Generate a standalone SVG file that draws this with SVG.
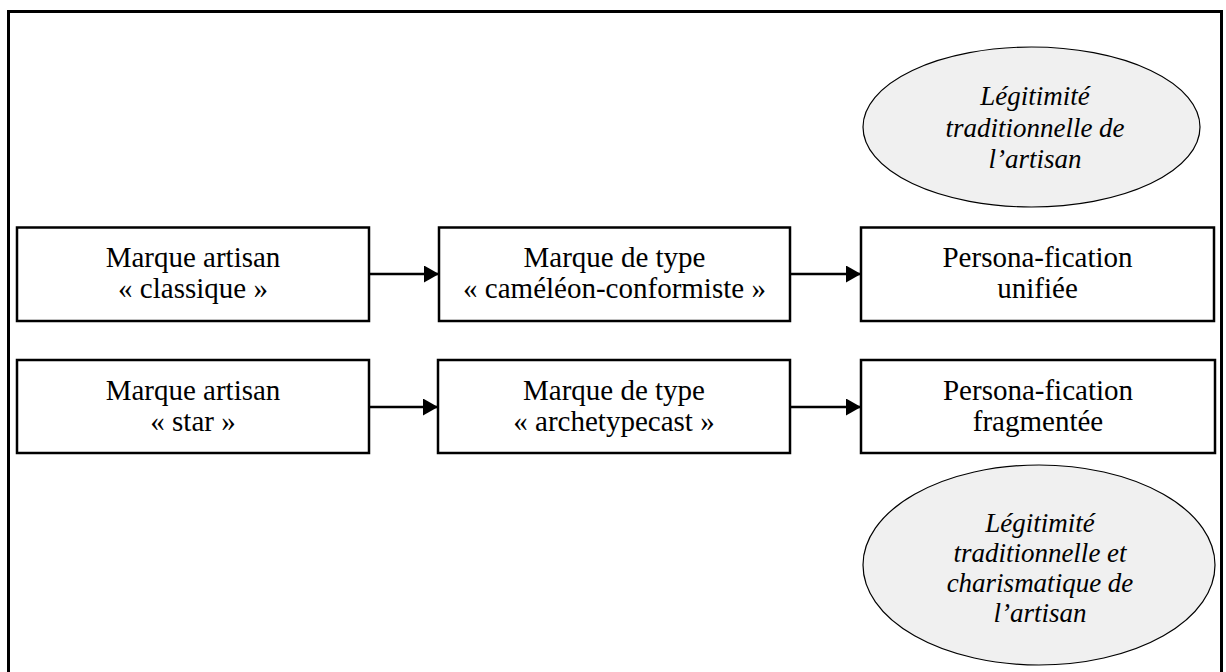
<svg xmlns="http://www.w3.org/2000/svg" width="1226" height="672" viewBox="0 0 1226 672">
<style>
.box{fill:#fff;stroke:#000;stroke-width:2.5}
.ell{fill:#f0f0f0;stroke:#000;stroke-width:1.2}
.t{font-family:"Liberation Serif","Times New Roman",serif;font-size:29px;fill:#000;text-anchor:middle}
.ti{font-family:"Liberation Serif","Times New Roman",serif;font-size:27px;font-style:italic;fill:#000;text-anchor:middle}
.c{stroke:#000;stroke-width:2.5;fill:none;marker-end:url(#ah)}
</style>
<defs>
<marker id="ah" markerUnits="userSpaceOnUse" markerWidth="16" markerHeight="18" refX="15" refY="8.5" orient="auto">
<path d="M0,0 L15,8.5 L0,17 Z" fill="#000"/>
</marker>
</defs>
<rect x="0" y="0" width="1226" height="672" fill="#fff"/>
<rect id="frame" x="8.5" y="11.5" width="1213" height="680" fill="none" stroke="#000" stroke-width="3"/>
<g id="e1">
<ellipse class="ell" cx="1031.5" cy="127" rx="168.5" ry="80"/>
<text class="ti" x="1035" y="105">Légitimité</text>
<text class="ti" x="1035" y="137">traditionnelle de</text>
<text class="ti" x="1035" y="168">l’artisan</text>
</g>
<g id="b1">
<rect class="box" x="17" y="227.5" width="352" height="93.5"/>
<text class="t" x="193" y="267">Marque artisan</text>
<text class="t" x="193" y="298">« classique »</text>
</g>
<g id="b2">
<rect class="box" x="439" y="227.5" width="351" height="93.5"/>
<text class="t" x="614.5" y="267">Marque de type</text>
<text class="t" x="614.5" y="298">« caméléon-conformiste »</text>
</g>
<g id="b3">
<rect class="box" x="861" y="227.5" width="353" height="93.5"/>
<text class="t" x="1037.5" y="267">Persona-fication</text>
<text class="t" x="1037.5" y="298">unifiée</text>
</g>
<g id="b4">
<rect class="box" x="17" y="360" width="352" height="93"/>
<text class="t" x="193" y="400">Marque artisan</text>
<text class="t" x="193" y="431">« star »</text>
</g>
<g id="b5">
<rect class="box" x="438" y="360" width="352" height="93"/>
<text class="t" x="614" y="400">Marque de type</text>
<text class="t" x="614" y="431">« archetypecast »</text>
</g>
<g id="b6">
<rect class="box" x="861" y="360" width="354" height="93"/>
<text class="t" x="1038" y="400">Persona-fication</text>
<text class="t" x="1038" y="431">fragmentée</text>
</g>
<g id="e2">
<ellipse class="ell" cx="1039" cy="565" rx="176" ry="100"/>
<text class="ti" x="1040" y="532">Légitimité</text>
<text class="ti" x="1040" y="562">traditionnelle et</text>
<text class="ti" x="1040" y="592">charismatique de</text>
<text class="ti" x="1040" y="622">l’artisan</text>
</g>
<g id="connectors">
<line class="c" x1="370" y1="274" x2="439" y2="274"/>
<line class="c" x1="791" y1="274" x2="861" y2="274"/>
<line class="c" x1="370" y1="407" x2="438" y2="407"/>
<line class="c" x1="791" y1="407" x2="861" y2="407"/>
</g>
</svg>
